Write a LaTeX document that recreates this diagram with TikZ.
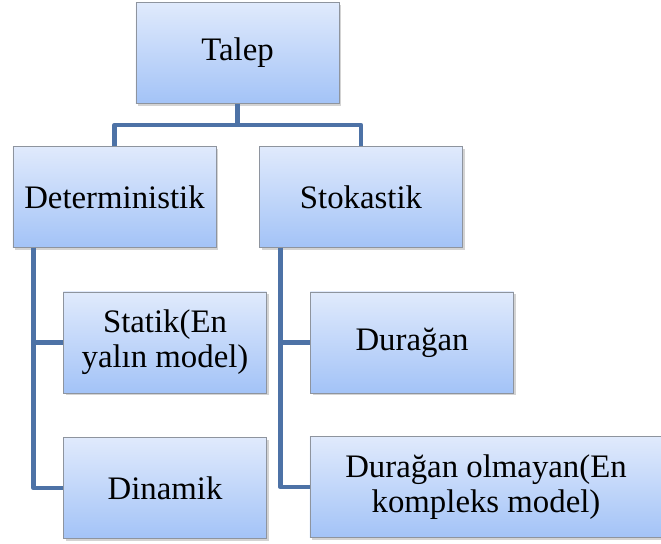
\documentclass[tikz,border=0pt]{standalone}
\usepackage{fontspec}
\setmainfont{Liberation Serif}
\usetikzlibrary{shadows}

\definecolor{boxtop}{HTML}{E0EAFC}
\definecolor{boxbottom}{HTML}{A3C3F7}
\definecolor{boxline}{HTML}{8E949E}
\definecolor{linkblue}{HTML}{4D72A6}

\begin{document}
\begin{tikzpicture}[x=0.03cm, y=-0.03cm, font=\fontsize{28}{30}\selectfont,
    box/.style={draw=boxline, top color=boxtop, bottom color=boxbottom, align=center,
      minimum width=6.09cm, minimum height=3.03cm, inner sep=0pt,
      drop shadow={shadow xshift=2pt, shadow yshift=-2pt, opacity=0.35}},
    link/.style={draw=linkblue, line width=4pt, line join=round}]

    \useasboundingbox (0,0) rectangle (661,544);

    % Top level
    \node[box] (talep) at (237.5,53) {Talep};

    % Second level
    \node[box] (det) at (114.5,197) {Deterministik};
    \node[box] (sto) at (361,197) {Stokastik};

    % Third level
    \node[box] (stat) at (165,342.5) {Statik(En\\yalın model)};
    \node[box] (dyn) at (165,488) {Dinamik};
    \node[box] (dur) at (412,342.5) {Durağan};
    \node[box, minimum width=10.56cm] (duro) at (486,487) {Durağan olmayan(En\\kompleks model)};

    % Links
    \coordinate (split) at (237.5,125);
    \draw[link] (talep.south) -- (split);
    \draw[link] (det.north) |- (split) -| (sto.north);

    \coordinate (dtrunk) at ([xshift=0.63cm]det.south west);
    \coordinate (strunk) at ([xshift=0.63cm]sto.south west);
    \draw[link] (dtrunk) |- (stat.west);
    \draw[link] (dtrunk) |- (dyn.west);
    \draw[link] (strunk) |- (dur.west);
    \draw[link] (strunk) |- (duro.west);
  \end{tikzpicture}
\end{document}
